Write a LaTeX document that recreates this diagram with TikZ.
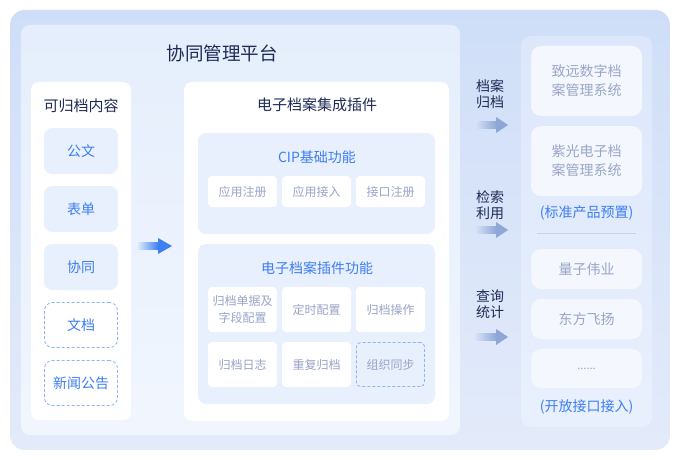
\documentclass[tikz,border=0pt]{standalone}
\usepackage{fontspec}
\setmainfont{Noto Sans CJK SC}
\definecolor{bgtop}{HTML}{CFDEF8}
\definecolor{bgbot}{HTML}{E3EBFA}
\definecolor{pltop}{HTML}{E5EEFC}
\definecolor{plbot}{HTML}{F1F6FE}
\definecolor{itemfill}{HTML}{E9F0FD}
\definecolor{navy}{HTML}{1F2B56}
\definecolor{blueT}{HTML}{3D7EF2}
\definecolor{grayT}{HTML}{99A5C7}
\definecolor{dashC}{HTML}{8CB5F6}
\definecolor{systop}{HTML}{DCE7FB}
\definecolor{sysbot}{HTML}{E9F0FD}
\definecolor{sysbox}{HTML}{F4F8FE}
\definecolor{sepC}{HTML}{C5D3EE}
\definecolor{arrL}{HTML}{3D7EF2}
\definecolor{arrR}{HTML}{8EA7D6}
\begin{document}
\begin{tikzpicture}[x=1pt,y=-1pt,
  every node/.style={inner sep=0pt, outer sep=0pt, align=center},
  panel/.style={rounded corners=8pt, fill=white},
  item/.style={rounded corners=8pt, fill=itemfill, minimum width=74pt, minimum height=46pt,
    text=blueT, font=\fontsize{14}{17}\selectfont},
  dashitem/.style={rounded corners=8pt, draw=dashC, dash pattern=on 3pt off 2pt, line width=0.8pt, fill=white,
    minimum width=73pt, minimum height=45pt, text=blueT, font=\fontsize{14}{17}\selectfont},
  group/.style={rounded corners=8pt, fill=itemfill},
  sub/.style={rounded corners=4pt, fill=white, minimum width=69pt, text=grayT,
    font=\fontsize{12}{17}\selectfont},
  sysitem/.style={rounded corners=10pt, fill=sysbox, minimum width=111pt, text=grayT,
    font=\fontsize{14}{19}\selectfont},
  ttl/.style={text=navy, font=\fontsize{15}{18}\selectfont},
  bluettl/.style={text=blueT, font=\fontsize{14}{17}\selectfont},
  sidelbl/.style={text=navy, font=\fontsize{14}{16}\selectfont},
]
\useasboundingbox (0,0) rectangle (680,460);
% outer background
\node[rounded corners=15pt, top color=bgtop, bottom color=bgbot, minimum width=660pt, minimum height=440pt] (bg) at (340,230) {};
% platform panel
\node[rounded corners=9pt, top color=pltop, bottom color=plbot, minimum width=439pt, minimum height=410pt] (plat) at (240.5,230) {};
\node[text=navy, font=\fontsize{18.5}{21}\selectfont] (plattitle) at (222,53) {协同管理平台};

% left source box
\node[panel, minimum width=100pt, minimum height=338pt] (src) at (81,251) {};
\node[ttl] (srctitle) at (81,106) {可归档内容};
\node[item] (gw) at (81,151) {公文};
\node[item] (bd) at (81,209) {表单};
\node[item] (xt) at (81,267) {协同};
\node[dashitem] (wd) at (81,325) {文档};
\node[dashitem] (xw) at (81,383) {新闻公告};

% middle plugin box
\node[panel, minimum width=265pt, minimum height=339pt] (plug) at (316.5,251.5) {};
\node[ttl] (plugtitle) at (317,105) {电子档案集成插件};
\node[group, minimum width=237pt, minimum height=101pt] (cip) at (316.5,183.5) {};
\node[bluettl] (ciptitle) at (317,157) {CIP基础功能};
\node[sub, minimum height=31pt] (c1) at (242.5,191.5) {应用注册};
\node[sub, minimum height=31pt] (c2) at (316.5,191.5) {应用接入};
\node[sub, minimum height=31pt] (c3) at (390.5,191.5) {接口注册};
\node[group, minimum width=237pt, minimum height=160pt] (pf) at (316.5,324) {};
\node[bluettl] (pftitle) at (317,268) {电子档案插件功能};
\node[sub, minimum height=45pt] (p1) at (242.5,309.5) {归档单据及\\字段配置};
\node[sub, minimum height=45pt] (p2) at (316.5,309.5) {定时配置};
\node[sub, minimum height=45pt] (p3) at (390.5,309.5) {归档操作};
\node[sub, minimum height=45pt] (p4) at (242.5,364.5) {归档日志};
\node[sub, minimum height=45pt] (p5) at (316.5,364.5) {重复归档};
\node[sub, minimum height=44pt, minimum width=68pt, fill=none, draw=dashC, dash pattern=on 3pt off 2pt, line width=0.8pt] (p6) at (390.5,364.5) {组织同步};

% right systems panel
\node[rounded corners=10pt, top color=systop, bottom color=sysbot, minimum width=131pt, minimum height=391pt] (sys) at (586.5,231.5) {};
\node[sysitem, minimum height=70pt] (zy) at (586.5,81) {致远数字档\\案管理系统};
\node[sysitem, minimum height=70pt] (zg) at (586.5,161) {紫光电子档\\案管理系统};
\node[bluettl] (std) at (586.5,213) {(标准产品预置)};
\coordinate (sepL) at (537,233);
\coordinate (sepR) at (636,233);
\draw[sepC, line width=0.8pt] (sepL) -- (sepR);
\node[sysitem, minimum height=40pt] (lz) at (586.5,269) {量子伟业};
\node[sysitem, minimum height=40pt] (df) at (586.5,319) {东方飞扬};
\node[sysitem, minimum height=39pt, font=\fontsize{11}{19}\selectfont] (more) at (586.5,368.5) {......};
\node[bluettl] (open) at (586.5,407) {(开放接口接入)};

% side labels
\node[sidelbl] (l1) at (490,94) {档案\\归档};
\node[sidelbl] (l2) at (490,205) {检索\\利用};
\node[sidelbl] (l3) at (490,304) {查询\\统计};

% arrows
\shade[left color=pltop, right color=arrL] (137,242.5) rectangle (158.5,249.5);
\fill[arrL] (158,238) -- (172,246) -- (158,254) -- cycle;
\foreach \yy in {125,230,337}{
  \shade[left color=bgtop!60!bgbot, right color=arrR] (475,\yy-3.5) rectangle (496.5,\yy+3.5);
  \fill[arrR] (496,\yy-8) -- (508,\yy) -- (496,\yy+8) -- cycle;
}
\end{tikzpicture}
\end{document}
